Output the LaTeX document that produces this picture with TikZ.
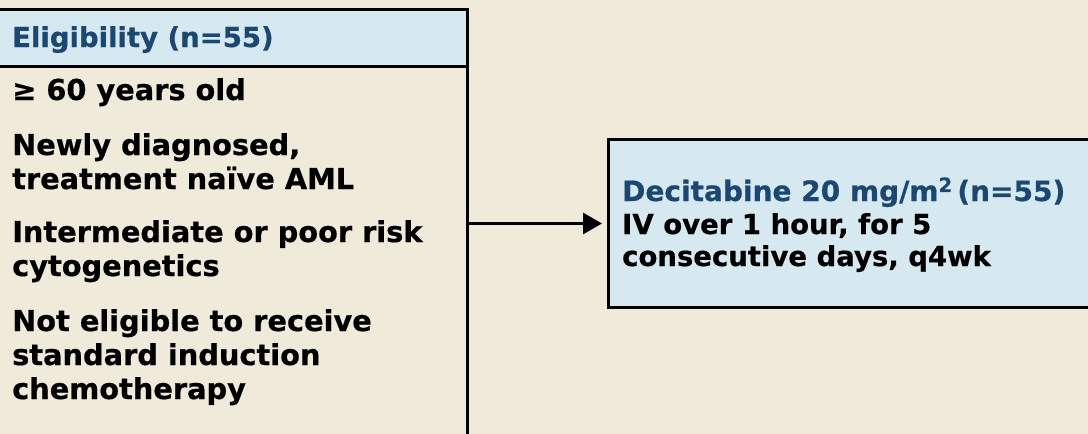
\documentclass[tikz,border=0pt]{standalone}
\usepackage{fontspec}
\setmainfont{DejaVu Sans}[BoldFeatures={FakeBold=0.6}]
\usetikzlibrary{arrows.meta}
\definecolor{bg}{HTML}{F0EADA}
\definecolor{lblue}{HTML}{D6E9F1}
\definecolor{dblue}{HTML}{1B4773}
\tikzset{
  box/.style={draw=black, line width=3pt, anchor=north west, inner sep=0pt},
  txt/.style={anchor=base west, inner sep=0pt, font=\fontsize{28.8}{33}\selectfont\bfseries},
  rtxt/.style={anchor=base west, inner sep=0pt, font=\fontsize{27.5}{32}\selectfont\bfseries},
  hdrtxt/.style={anchor=base west, inner sep=0pt, text=dblue, font=\fontsize{27.5}{32}\selectfont\bfseries},
}
\begin{document}
\begin{tikzpicture}[x=1pt,y=-1pt]
\useasboundingbox (0,0) rectangle (1088,434);
\fill[bg] (0,0) rectangle (1088,434);
\clip (0,0) rectangle (1088,434);
% left box
\node[box, fill=bg, minimum width=476pt, minimum height=440pt] (elig) at (-10,8) {};
\node[box, fill=lblue, minimum width=476pt, minimum height=57pt] (hdr) at (-10,8) {};
\node[hdrtxt] (h1) at (12,47) {Eligibility (n=55)};
\node[txt] (l1) at (12,100) {≥ 60 years old};
\node[txt] (l2) at (12,155) {Newly diagnosed,};
\node[txt] (l3) at (12,189) {treatment naïve AML};
\node[txt] (l4) at (12,242) {Intermediate or poor risk};
\node[txt] (l5) at (12,276) {cytogenetics};
\node[txt] (l6) at (12,331) {Not eligible to receive};
\node[txt] (l7) at (12,365) {standard induction};
\node[txt] (l8) at (12,399) {chemotherapy};
% right box
\node[box, fill=lblue, minimum width=500pt, minimum height=168pt] (treat) at (607,138) {};
\node[hdrtxt, font=\fontsize{28}{32}\selectfont\bfseries] (r1) at (622,201) {Decitabine 20 mg/m\textsuperscript{2}\,(n=55)};
\node[rtxt] (r2) at (622,234) {IV over 1 hour, for 5};
\node[rtxt] (r3) at (622,266) {consecutive days, q4wk};
% arrow
\draw[line width=3pt, shorten >=5pt, -{Triangle[length=19pt,width=21pt]}] (elig.east |- treat.west) -- (treat.west);
\end{tikzpicture}
\end{document}
